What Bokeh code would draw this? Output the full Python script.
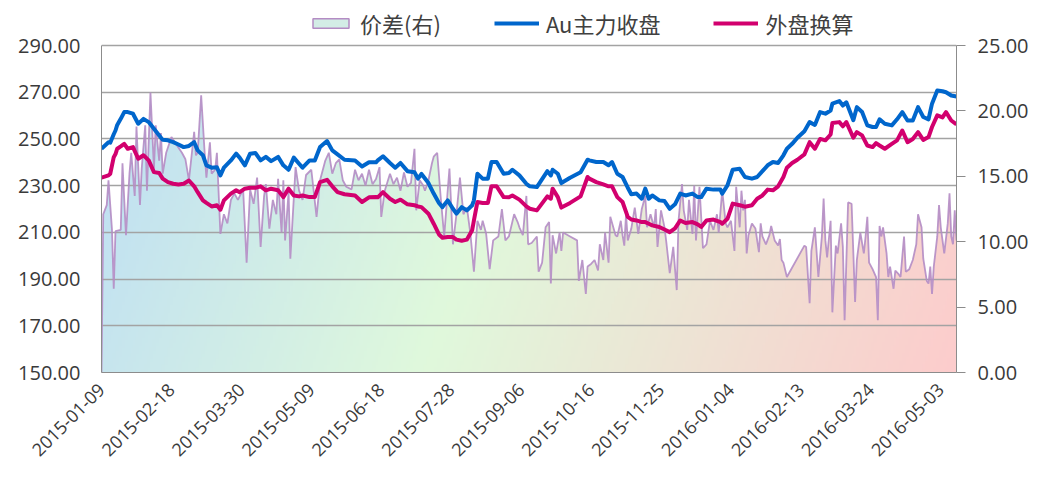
import math
import numpy as np
import pandas as pd
from bokeh.plotting import figure
from bokeh.models import (Range1d, LinearAxis, FixedTicker, NumeralTickFormatter,
                          DatetimeTickFormatter, Legend, LegendItem)
from bokeh.embed import file_html
from bokeh.resources import INLINE

# ---------------- data ----------------
START = "2015-01-09"
END = "2016-05-12"
TICK_LABELS = ["2015-01-09", "2015-02-18", "2015-03-30", "2015-05-09", "2015-06-18",
               "2015-07-28", "2015-09-06", "2015-10-16", "2015-11-25", "2016-01-04",
               "2016-02-13", "2016-03-24", "2016-05-03"]
LEFT_TICKS = [150, 170, 190, 210, 230, 250, 270, 290]
RIGHT_TICKS = [0, 5, 10, 15, 20, 25]

# day offsets from START for the two price lines
DAYS_LINE = [0, 4, 5, 7, 8, 9, 11, 13, 15, 18,
             21, 24, 27, 30, 33, 35, 38, 41, 44, 47,
             50, 53, 55, 58, 60, 63, 66, 68, 70, 74,
             77, 79, 82, 85, 88, 91, 94, 97, 101, 104,
             107, 110, 113, 115, 119, 122, 125, 129, 132, 135,
             139, 145, 149, 153, 157, 158, 161, 165, 168, 171,
             175, 179, 181, 183, 187, 190, 193, 195, 198, 201,
             203, 206, 209, 212, 213, 215, 218, 221, 223, 226,
             230, 233, 235, 239, 243, 245, 249, 255, 257, 258,
             261, 263, 268, 274, 278, 279, 283, 287, 290, 292,
             295, 298, 301, 303, 306, 309, 311, 313, 315, 319,
             322, 325, 328, 331, 334, 338, 341, 343, 346, 350,
             354, 355, 358, 361, 365, 368, 372, 375, 378, 381,
             384, 387, 390, 392, 395, 398, 402, 405, 408, 411,
             414, 417, 418, 422, 424, 426, 430, 432, 435, 438,
             441, 443, 445, 448, 452, 455, 458, 461, 464, 467,
             470, 473, 475, 478, 481, 483, 486, 489]

AU_CLOSE = [245.8, 248.6, 248.4, 252.0, 253.6, 256.0, 258.6, 261.5, 261.5, 260.8,
            256.5, 258.6, 257.2, 254.4, 251.5, 249.6, 249.4, 248.6, 247.6, 246.5,
            247.0, 248.6, 245.1, 243.0, 238.7, 237.7, 237.9, 234.4, 237.7, 240.8,
            243.7, 242.0, 238.7, 243.7, 244.0, 240.8, 242.3, 240.5, 242.3, 238.7,
            236.8, 242.0, 239.4, 237.7, 240.8, 240.8, 246.5, 249.1, 245.1, 243.4,
            241.1, 240.8, 238.2, 240.0, 240.0, 240.8, 242.6, 239.7, 237.7, 239.7,
            236.2, 235.7, 233.0, 235.0, 231.1, 226.6, 222.6, 220.8, 223.7, 220.1,
            218.0, 220.8, 219.4, 221.6, 223.7, 235.1, 233.0, 233.0, 240.1, 240.1,
            235.1, 235.4, 236.8, 234.4, 230.8, 229.7, 229.4, 236.2, 234.4, 236.8,
            235.1, 231.1, 233.4, 235.7, 241.1, 240.8, 240.1, 240.1, 238.7, 240.1,
            235.1, 233.7, 229.1, 226.3, 226.6, 224.4, 228.7, 224.4, 225.8, 223.7,
            223.4, 220.1, 222.0, 226.6, 225.8, 226.6, 225.1, 225.1, 228.7, 228.3,
            228.3, 226.6, 230.1, 236.8, 237.2, 233.7, 233.0, 233.7, 236.2, 238.7,
            240.1, 239.7, 243.0, 245.8, 247.9, 250.5, 253.3, 257.2, 256.0, 261.5,
            260.8, 262.2, 265.1, 266.2, 264.3, 265.7, 258.0, 263.6, 261.5, 255.8,
            255.1, 255.1, 258.4, 256.5, 255.8, 258.4, 261.5, 257.9, 257.9, 263.6,
            259.4, 258.4, 265.1, 270.7, 270.4, 270.0, 268.6, 268.2]

OUTER_CONV = [233.4, 234.4, 235.1, 242.2, 243.5, 245.8, 246.8, 247.9, 245.8, 246.5,
              241.5, 243.0, 240.8, 235.8, 235.4, 233.0, 231.5, 230.8, 230.5, 230.8,
              232.2, 229.7, 227.2, 223.7, 222.6, 221.1, 221.6, 219.7, 223.7, 226.6,
              228.0, 227.2, 228.7, 229.1, 229.1, 229.7, 228.0, 228.7, 228.0, 225.1,
              228.7, 225.8, 225.4, 225.8, 225.1, 225.1, 231.5, 232.5, 229.7, 227.2,
              226.3, 225.8, 223.0, 225.0, 225.1, 225.0, 227.2, 224.4, 223.0, 224.0,
              222.0, 221.6, 221.1, 220.8, 218.0, 213.7, 209.1, 207.7, 208.0, 208.0,
              206.9, 206.4, 206.9, 210.9, 215.1, 223.0, 222.6, 222.6, 229.7, 229.7,
              225.1, 225.0, 225.8, 224.0, 221.1, 220.1, 219.4, 225.4, 224.4, 228.7,
              225.1, 220.6, 222.6, 225.4, 233.7, 233.0, 231.5, 230.5, 229.7, 229.7,
              225.1, 223.0, 216.6, 215.5, 215.1, 214.4, 214.4, 213.7, 213.0, 212.3,
              211.2, 210.1, 211.7, 215.1, 214.0, 214.4, 213.4, 212.3, 215.1, 215.5,
              214.4, 213.7, 215.8, 222.3, 221.6, 221.0, 221.6, 224.4, 225.8, 228.3,
              228.0, 229.7, 233.7, 237.7, 239.7, 241.1, 243.4, 248.6, 245.8, 250.0,
              249.4, 251.9, 256.8, 257.2, 255.4, 257.2, 250.5, 252.9, 251.5, 247.2,
              246.5, 248.2, 247.2, 245.8, 247.9, 249.4, 253.6, 248.6, 250.0, 252.9,
              249.6, 250.8, 255.1, 260.1, 259.2, 261.5, 257.9, 256.2]

# day offsets from START for the spread (right axis)
DAYS_SPREAD = [0, 1, 3, 4, 6, 7, 8, 11, 12, 14,
               16, 17, 19, 20, 22, 23, 25, 26, 28, 30,
               31, 33, 34, 35, 37, 40, 43, 46, 48, 50,
               53, 54, 55, 57, 59, 60, 62, 63, 65, 66,
               68, 70, 72, 74, 76, 78, 81, 83, 85, 87,
               89, 91, 93, 94, 96, 98, 100, 101, 103, 104,
               105, 107, 108, 111, 113, 115, 117, 120, 123, 125,
               128, 130, 132, 134, 136, 138, 140, 143, 145, 147,
               149, 151, 153, 155, 157, 159, 160, 162, 165, 167,
               169, 171, 173, 175, 177, 179, 180, 182, 184, 185,
               187, 189, 190, 192, 194, 196, 198, 199, 201, 203,
               205, 207, 209, 211, 213, 215, 217, 218, 220, 222,
               224, 227, 229, 231, 233, 236, 238, 239, 241, 243,
               244, 246, 249, 250, 252, 254, 256, 257, 258, 260,
               262, 263, 264, 268, 272, 273, 275, 277, 278, 280,
               282, 284, 285, 287, 288, 290, 291, 294, 295, 297,
               298, 299, 300, 301, 303, 305, 307, 309, 311, 312,
               314, 316, 317, 318, 320, 322, 323, 325, 327, 329,
               330, 332, 333, 335, 336, 338, 339, 340, 342, 344,
               346, 348, 350, 352, 353, 355, 357, 358, 360, 362,
               363, 365, 366, 367, 368, 369, 370, 372, 374, 376,
               377, 378, 380, 382, 383, 385, 387, 388, 389, 390,
               392, 402, 403, 405, 406, 408, 410, 412, 413, 414,
               415, 417, 418, 420, 421, 423, 424, 425, 427, 429,
               431, 432, 434, 436, 437, 438, 439, 441, 443, 444,
               445, 446, 447, 449, 450, 451, 453, 454, 456, 457,
               459, 460, 462, 464, 466, 467, 469, 470, 472, 473,
               474, 475, 476, 478, 479, 480, 482, 484, 485, 486,
               487, 488, 489]

SPREAD = [0.0, 12.1, 12.8, 14.7, 10.9, 6.4, 10.8, 10.9, 16.0, 10.5,
          15.2, 16.8, 13.5, 18.8, 12.8, 15.6, 18.9, 13.9, 21.4, 15.6,
          18.9, 16.2, 18.3, 15.2, 16.8, 18.0, 17.4, 16.8, 16.3, 14.7,
          18.4, 16.6, 16.8, 21.2, 16.8, 14.9, 17.6, 15.2, 15.5, 16.8,
          10.6, 12.1, 11.4, 13.2, 13.7, 13.2, 14.0, 8.4, 14.0, 12.9,
          14.9, 9.6, 13.5, 14.4, 11.0, 13.2, 12.1, 14.8, 10.7, 14.7,
          10.1, 13.8, 8.7, 15.7, 13.9, 13.2, 15.1, 15.5, 11.9, 14.7,
          16.2, 16.8, 15.2, 16.0, 16.3, 14.7, 14.2, 14.0, 15.5, 14.7,
          15.2, 14.3, 15.5, 14.4, 14.8, 15.7, 11.9, 13.9, 15.2, 14.4,
          14.9, 13.9, 15.3, 14.2, 14.5, 17.1, 12.4, 14.7, 14.3, 13.9,
          14.7, 16.0, 16.5, 16.8, 13.4, 10.4, 13.9, 15.6, 9.8, 12.1,
          14.9, 12.1, 12.6, 10.6, 7.7, 11.6, 10.9, 11.6, 10.6, 7.9,
          10.1, 10.4, 12.5, 10.1, 10.4, 12.1, 11.5, 11.1, 10.5, 13.5,
          9.8, 9.9, 10.4, 7.7, 8.4, 11.1, 11.5, 6.8, 10.5, 9.1,
          10.7, 9.3, 10.7, 10.4, 10.1, 7.0, 8.6, 6.0, 8.1, 8.3,
          8.6, 7.8, 9.8, 8.6, 10.7, 8.4, 11.9, 10.5, 10.4, 11.6,
          10.5, 9.7, 12.1, 10.1, 11.0, 12.6, 10.6, 12.5, 13.5, 11.1,
          12.1, 11.1, 12.5, 9.6, 12.4, 11.1, 10.0, 7.6, 9.6, 6.3,
          11.6, 14.4, 12.4, 10.9, 13.2, 10.6, 14.3, 10.1, 14.2, 9.5,
          9.8, 11.6, 10.9, 12.1, 10.7, 13.9, 11.4, 11.1, 11.6, 9.3,
          14.2, 11.1, 13.9, 12.4, 13.2, 9.1, 10.5, 11.4, 11.0, 9.2,
          11.4, 10.4, 9.8, 10.5, 11.2, 10.1, 9.7, 10.2, 8.6, 8.4,
          7.3, 9.7, 9.6, 5.3, 9.3, 11.1, 7.3, 10.4, 13.3, 10.1,
          8.8, 11.6, 4.6, 9.7, 9.1, 11.4, 9.6, 4.0, 13.0, 12.9,
          5.4, 8.6, 10.7, 9.1, 10.4, 11.9, 8.4, 7.9, 7.3, 4.0,
          11.2, 10.4, 11.1, 9.1, 7.3, 8.1, 6.4, 7.8, 7.5, 7.3,
          10.4, 7.7, 7.9, 8.6, 9.8, 12.1, 11.1, 8.7, 7.0, 6.8,
          8.1, 6.0, 8.1, 10.4, 12.8, 11.1, 9.1, 11.4, 13.7, 10.4,
          9.8, 12.4, 10.1]

LABELS = ["价差(右)", "Au主力收盘", "外盘换算"]

# ---------------- styling / layout ----------------
BLUE = "#0066CC"
MAGENTA = "#D2006E"
LILAC = "#B48CC4"
GRID = "#A3A3A3"
AXIS = "#8C8C8C"
TXT = "#3A3A3A"

PLOT_H = 327          # pixel height of the 150..290 (0..25) band
HEAD = 40             # extra frame space above the band, holds the legend
frac = (PLOT_H + HEAD) / PLOT_H
LEFT_LO, LEFT_HI = 150, 290
RIGHT_LO, RIGHT_HI = 0, 25

t0 = pd.Timestamp(START)
t1 = pd.Timestamp(END)
line_dates = (t0 + pd.to_timedelta(DAYS_LINE, unit="D")).to_numpy()
spread_dates = (t0 + pd.to_timedelta(DAYS_SPREAD, unit="D")).to_numpy()

p = figure(width=1053, height=5 + PLOT_H + HEAD + 109, x_axis_type="datetime",
           x_range=Range1d(start=t0.to_pydatetime(), end=t1.to_pydatetime()),
           y_range=Range1d(LEFT_LO, LEFT_LO + (LEFT_HI - LEFT_LO) * frac),
           output_backend="svg", toolbar_location=None,
           min_border_left=101, min_border_right=97, min_border_top=5, min_border_bottom=109)
p.extra_y_ranges = {"right": Range1d(RIGHT_LO, RIGHT_LO + (RIGHT_HI - RIGHT_LO) * frac)}
p.outline_line_color = None
p.background_fill_color = "white"
p.border_fill_color = "white"

# gradient background for the spread area (style only)
W, H = 300, 120
u = (np.arange(W) + 0.5) / W
v = (np.arange(H) + 0.5) / H  # from bottom
U, V = np.meshgrid(u, v)
tt = np.clip(0.88 * U + 0.12 * (1 - V), 0, 1)
stops = np.array([0.0, 0.45, 1.0])
cols = np.array([[189, 222, 245], [224, 249, 220], [253, 204, 204]], dtype=float)
img = np.empty((H, W), dtype=np.uint32)
view = img.view(dtype=np.uint8).reshape((H, W, 4))
for k in range(3):
    view[:, :, k] = np.interp(tt, stops, cols[:, k]).astype(np.uint8)
view[:, :, 3] = 255
x0_ms = t0.value / 1e6
dw_ms = (t1 - t0).total_seconds() * 1000.0
p.image_rgba(image=[img], x=x0_ms, y=RIGHT_LO, dw=dw_ms, dh=RIGHT_HI - RIGHT_LO,
             y_range_name="right", level="image")
# white above the spread
p.varea(x=spread_dates, y1=SPREAD, y2=RIGHT_HI, fill_color="white",
        y_range_name="right", level="image")

spread_r = p.line(x=spread_dates, y=SPREAD, line_color=LILAC, line_width=1.8, line_alpha=0.9,
                  y_range_name="right")
# legend-only swatch (NaN data, nothing drawn in the plot)
legend_swatch = p.quad(left=[np.nan], right=[np.nan], top=[np.nan], bottom=[np.nan],
                       fill_color="#D3EDE6", line_color=LILAC, line_width=1.5)
wai_r = p.line(x=line_dates, y=OUTER_CONV, line_color=MAGENTA, line_width=4, line_join="round")
au_r = p.line(x=line_dates, y=AU_CLOSE, line_color=BLUE, line_width=4, line_join="round")

# axes
left = p.left[0]
left.ticker = FixedTicker(ticks=LEFT_TICKS)
left.bounds = (LEFT_LO, LEFT_HI)
left.formatter = NumeralTickFormatter(format="0.00")
left.major_tick_out = 0
left.major_tick_in = 0
left.minor_tick_out = 0
left.minor_tick_in = 0
left.major_label_standoff = 21
left.axis_line_color = AXIS
left.major_label_text_font = "Open Sans"
left.major_label_text_font_size = "20px"
left.major_label_text_color = TXT

right = LinearAxis(y_range_name="right", ticker=FixedTicker(ticks=RIGHT_TICKS),
                   formatter=NumeralTickFormatter(format="0.00"), bounds=(RIGHT_LO, RIGHT_HI))
right.major_tick_out = 9
right.major_tick_in = 0
right.minor_tick_out = 0
right.minor_tick_in = 0
right.major_tick_line_color = AXIS
right.axis_line_color = AXIS
right.major_label_standoff = 12
right.major_label_text_font = "Open Sans"
right.major_label_text_font_size = "20px"
right.major_label_text_color = TXT
p.add_layout(right, "right")

xa = p.below[0]
xa.ticker = FixedTicker(ticks=[pd.Timestamp(s).value / 1e6 for s in TICK_LABELS])
fmt = "%Y-%m-%d"
xa.formatter = DatetimeTickFormatter(days=fmt, months=fmt, years=fmt, hours=fmt, hourmin=fmt)
xa.major_label_orientation = math.pi / 4
xa.major_tick_out = 0
xa.major_tick_in = 0
xa.minor_tick_out = 0
xa.minor_tick_in = 0
xa.major_label_standoff = 14
xa.axis_line_color = AXIS
xa.major_label_text_font = "Open Sans"
xa.major_label_text_font_size = "18px"
xa.major_label_text_color = TXT

p.ygrid.grid_line_color = GRID
p.ygrid.grid_line_width = 1.3
p.xgrid.grid_line_color = None

legend = Legend(items=[LegendItem(label=LABELS[0], renderers=[legend_swatch]),
                       LegendItem(label=LABELS[1], renderers=[au_r]),
                       LegendItem(label=LABELS[2], renderers=[wai_r])],
                location=(207, PLOT_H + 6), orientation="horizontal",
                glyph_width=45, glyph_height=12, label_standoff=7, spacing=53,
                padding=0, margin=0, border_line_color=None, background_fill_alpha=0,
                label_text_font="Noto Sans CJK SC", label_text_font_size="22px",
                label_text_color="#404040")
p.add_layout(legend)

open("out.html", "w").write(file_html(p, INLINE))
